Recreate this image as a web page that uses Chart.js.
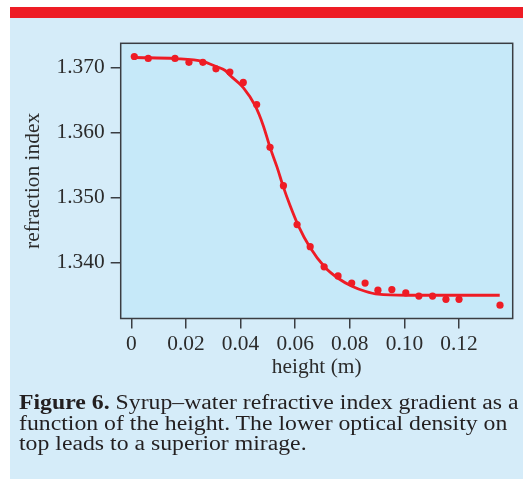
<!DOCTYPE html>
<html>
<head>
<meta charset="utf-8">
<script src="https://cdn.jsdelivr.net/npm/chart.js"></script>
<style>
  html, body { margin: 0; padding: 0; background: #fff; }
  #page { position: relative; width: 523px; height: 479px; overflow: hidden; }
  #redbar { position: absolute; left: 10px; top: 7px; width: 513px; height: 11px; background: #ee1c25; }
  #panel { position: absolute; left: 10px; top: 18px; width: 513px; height: 461px; background: #d5ecf9; }
  #chartbox { position: absolute; left: 0; top: 0; width: 523px; height: 479px; }
  #caption {
    position: absolute; left: 19px; top: 392px; white-space: nowrap;
    font-family: "Liberation Serif", "DejaVu Serif", serif; font-size: 21.6px; line-height: 20.6px;
    color: #231f20; transform: scaleX(1.1); transform-origin: 0 0;
  }
</style>
</head>
<body>
<div id="page">
  <div id="redbar"></div>
  <div id="panel"></div>
  <div id="chartbox"><canvas id="chart" width="523" height="479"></canvas></div>
  <div id="caption"><b>Figure 6.</b> Syrup–water refractive index gradient as a<br>function of the height. The lower optical density on<br>top leads to a superior mirage.</div>
</div>
<script>
// measured points: height (m) vs refraction index
const measHeight = [0.0011, 0.0062, 0.0160, 0.0211, 0.0262, 0.0310, 0.0361, 0.0410, 0.0459, 0.0508,
  0.0557, 0.0607, 0.0655, 0.0706, 0.0757, 0.0807, 0.0856, 0.0903, 0.0954, 0.1005, 0.1053, 0.1103, 0.1152, 0.1200, 0.1350];
const measIndex = [1.3717, 1.3714, 1.3714, 1.3708, 1.3708, 1.3698, 1.3693, 1.3677, 1.3643, 1.3577,
  1.3518, 1.3458, 1.3424, 1.3393, 1.3379, 1.3368, 1.3368, 1.3357, 1.3358, 1.3353, 1.3348, 1.3348, 1.3343, 1.3343, 1.3334];

// fitted curve
const fitHeight = [0.0011, 0.0161, 0.0263, 0.0311, 0.0344, 0.0362, 0.0410, 0.0453, 0.0483, 0.0508, 0.0534,
  0.0556, 0.0581, 0.0611, 0.0654, 0.0709, 0.0757, 0.0808, 0.0856, 0.0903, 0.1009, 0.1349];
const fitIndex = [1.37154, 1.37138, 1.37092, 1.37015, 1.36954, 1.36877, 1.36692, 1.36415, 1.36108, 1.35769, 1.35462,
  1.35169, 1.34877, 1.34569, 1.34231, 1.33923, 1.33754, 1.33631, 1.33554, 1.33508, 1.33492, 1.33492];

const xTicks = [0, 0.02, 0.04, 0.06, 0.08, 0.10, 0.12];
const xTickLabels = ['0', '0.02', '0.04', '0.06', '0.08', '0.10', '0.12'];
const yTicks = [1.34, 1.35, 1.36, 1.37];
const yTickLabels = ['1.340', '1.350', '1.360', '1.370'];

const RED = '#ee1c25';
const INK = '#3a3d42';
const TEXT = '#2b2b2b';
const serif = '"Liberation Serif", "DejaVu Serif", serif';

const plotFrame = {
  id: 'plotFrame',
  beforeDraw(chart) {
    const a = chart.chartArea, ctx = chart.ctx;
    ctx.save();
    ctx.fillStyle = '#c6e9f9';
    ctx.fillRect(a.left, a.top, a.right - a.left, a.bottom - a.top);
    ctx.restore();
  },
  afterDatasetsDraw(chart) {
    const a = chart.chartArea, ctx = chart.ctx;
    ctx.save();
    ctx.strokeStyle = INK;
    ctx.lineWidth = 1.5;
    ctx.strokeRect(a.left, a.top, a.right - a.left, a.bottom - a.top);
    ctx.restore();
  }
};

const zip = (xs, ys) => xs.map((x, i) => ({ x: x, y: ys[i] }));

new Chart(document.getElementById('chart'), {
  type: 'scatter',
  data: {
    datasets: [
      {
        label: 'measured',
        data: zip(measHeight, measIndex),
        backgroundColor: RED,
        borderColor: RED,
        pointRadius: 3.6,
        pointBorderWidth: 0,
        order: 0
      },
      {
        label: 'fit',
        data: zip(fitHeight, fitIndex),
        showLine: true,
        borderColor: RED,
        borderWidth: 2.8,
        pointRadius: 0,
        cubicInterpolationMode: 'monotone',
        order: 1
      }
    ]
  },
  options: {
    responsive: false,
    animation: false,
    layout: { padding: { left: 10, top: 43.3, right: 10.3, bottom: 98.5 } },
    plugins: { legend: { display: false }, tooltip: { enabled: false } },
    scales: {
      x: {
        type: 'linear',
        min: -0.00388,
        max: 0.13965,
        afterBuildTicks: axis => { axis.ticks = xTicks.map(v => ({ value: v })); },
        afterFit: axis => { axis.height = 62; },
        grid: { drawOnChartArea: false, drawTicks: true, tickLength: 10, color: INK, lineWidth: 1.5 },
        border: { display: false },
        ticks: {
          padding: 3,
          color: TEXT,
          font: { family: serif, size: 21.4 },
          maxRotation: 0,
          autoSkip: false,
          callback: (v) => xTickLabels[xTicks.indexOf(v)]
        },
        title: {
          display: true,
          text: 'height (m)',
          color: TEXT,
          font: { family: serif, size: 21.4 },
          padding: { top: 0, bottom: 0 }
        }
      },
      y: {
        type: 'linear',
        min: 1.33134,
        max: 1.37373,
        afterBuildTicks: axis => { axis.ticks = yTicks.map(v => ({ value: v })); },
        afterFit: axis => { axis.width = 110.7; },
        grid: { drawOnChartArea: false, drawTicks: true, tickLength: 10, color: INK, lineWidth: 1.5 },
        border: { display: false },
        ticks: {
          padding: 6,
          color: TEXT,
          font: { family: serif, size: 21.4 },
          autoSkip: false,
          callback: (v) => yTickLabels[yTicks.indexOf(v)]
        },
        title: {
          display: true,
          text: 'refraction index',
          color: TEXT,
          font: { family: serif, size: 21.4 },
          padding: { top: 11, bottom: 0 }
        }
      }
    }
  },
  plugins: [plotFrame]
});
</script>
</body>
</html>
